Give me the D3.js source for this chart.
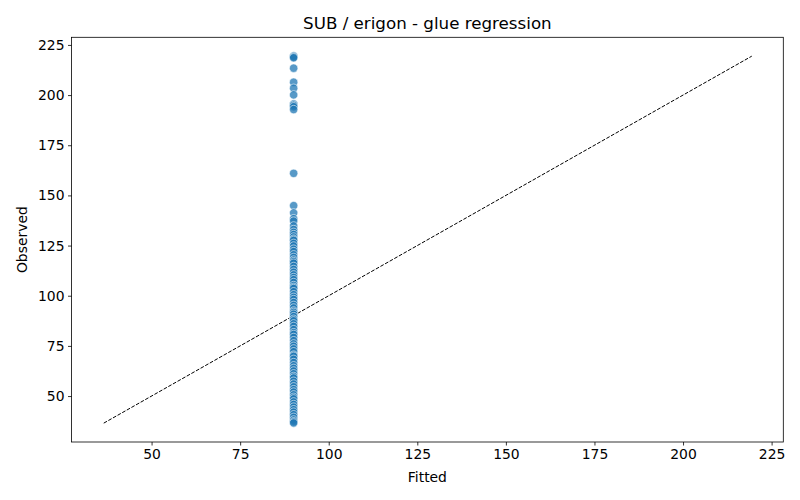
<!DOCTYPE html>
<html>
<head>
<meta charset="utf-8">
<script src="https://cdn.jsdelivr.net/npm/d3@7"></script>
<style>
  body { margin: 0; background: #fff; }
  text { font-family: "DejaVu Sans", sans-serif; fill: #000; }
</style>
</head>
<body>
<svg id="chart" width="800" height="500"></svg>
<script>
// fitted value is the same for every sample (intercept-only model)
var fittedValue = 90.1;

var observed = [
  219.5, 219.0, 218.6, 213.4, 206.4, 203.4, 200.1, 195.6, 194.9, 194.2, 192.8,
  161.0,
  144.9, 141.3, 138.4, 137.2, 134.8, 133.0, 131.6, 130.5, 129.3, 128.2, 127.6,
  126.1, 124.8, 123.2, 122.0, 120.4, 119.1, 117.8, 117.0, 116.2, 114.6, 113.1,
  111.7, 110.4, 109.1, 108.0, 106.6, 105.1, 104.2, 103.6, 102.0, 100.5, 99.2,
  98.1, 96.6, 95.2, 93.9, 92.4, 91.7, 90.8, 89.6, 88.3, 87.5, 86.0, 84.7,
  83.1, 81.6, 80.7, 79.2, 77.6, 76.0, 74.8, 73.5, 72.1, 70.4, 69.8, 68.3,
  66.7, 65.1, 63.8, 62.5, 61.1, 59.8, 59.0, 57.4, 56.0, 54.6, 53.2, 52.0,
  50.6, 49.4, 48.6, 47.1, 45.8, 44.5, 43.2, 42.0, 40.7, 39.4, 38.1, 37.2, 36.6
];

var xTicks = [50, 75, 100, 125, 150, 175, 200, 225];
var yTicks = [50, 75, 100, 125, 150, 175, 200, 225];

var lineExtent = [36.5, 219.4];

var svg = d3.select("#chart");
var margin = { left: 71.5, right: 16.7, top: 37.3, bottom: 58 };
var width = 800 - margin.left - margin.right;
var height = 500 - margin.top - margin.bottom;

var x = d3.scaleLinear().domain([27.4, 228.3]).range([0, width]);
var y = d3.scaleLinear().domain([27.1, 228.8]).range([height, 0]);

var g = svg.append("g")
  .attr("transform", "translate(" + margin.left + "," + margin.top + ")");

// identity line
g.append("line")
  .attr("x1", x(lineExtent[0]))
  .attr("y1", y(lineExtent[0]))
  .attr("x2", x(lineExtent[1]))
  .attr("y2", y(lineExtent[1]))
  .attr("stroke", "#000")
  .attr("stroke-width", 1)
  .attr("stroke-dasharray", "3.7,1.6");

// points
g.selectAll("circle")
  .data(observed)
  .enter()
  .append("circle")
  .attr("cx", function (d) { return x(fittedValue) })
  .attr("cy", function (d) { return y(d) })
  .attr("r", 4.2)
  .attr("fill", "#1f77b4")
  .attr("fill-opacity", 0.75)
  .attr("stroke", "#fff")
  .attr("stroke-width", 0.75)
  .attr("stroke-opacity", 0.75);

// axes
var xAxis = g.append("g")
  .attr("transform", "translate(0," + height + ")")
  .call(d3.axisBottom(x).tickValues(xTicks).tickSize(3.5).tickPadding(3.5));
var yAxis = g.append("g")
  .call(d3.axisLeft(y).tickValues(yTicks).tickSize(3.5).tickPadding(3.5));

[xAxis, yAxis].forEach(function (a) {
  a.select(".domain").remove();
  a.selectAll("line").attr("stroke", "#000").attr("stroke-width", 0.8);
  a.selectAll("text").style("font-size", "13.9px").style("font-family", "DejaVu Sans");
});

// frame
g.append("rect")
  .attr("width", width)
  .attr("height", height)
  .attr("fill", "none")
  .attr("stroke", "#000")
  .attr("stroke-width", 0.8);

// labels
svg.append("text")
  .attr("x", margin.left + width / 2)
  .attr("y", 29)
  .attr("text-anchor", "middle")
  .style("font-size", "16.7px")
  .text("SUB / erigon - glue regression");

svg.append("text")
  .attr("x", margin.left + width / 2)
  .attr("y", 482)
  .attr("text-anchor", "middle")
  .style("font-size", "13.9px")
  .text("Fitted");

svg.append("text")
  .attr("transform", "translate(27," + (margin.top + height / 2) + ") rotate(-90)")
  .attr("text-anchor", "middle")
  .style("font-size", "13.9px")
  .text("Observed");
</script>
</body>
</html>
